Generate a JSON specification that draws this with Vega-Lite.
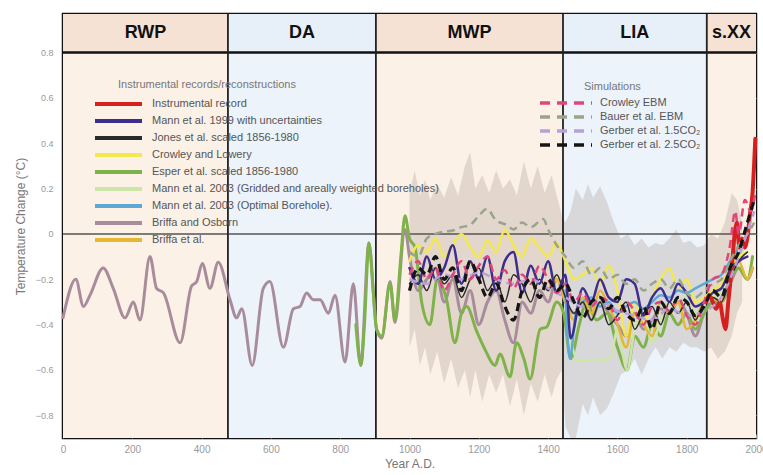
{
"$schema": "https://vega.github.io/schema/vega-lite/v6.json",
"width": 693, "height": 424,
"autosize": {"type": "none"},
"padding": {"left": 63, "top": 14, "right": 7, "bottom": 37},
"background": "white",
"config": {"view": {"stroke": "#111", "strokeWidth": 2.5}, "font": "Liberation Sans", "axis": {"grid": false, "domain": false}},
"datasets": {
"eras": [{"era":"RWP","start":0,"end":476,"mid":238},{"era":"DA","start":476,"end":903,"mid":690},{"era":"MWP","start":903,"end":1443,"mid":1173},{"era":"LIA","start":1443,"end":1858,"mid":1650},{"era":"s.XX","start":1858,"end":2000,"mid":1929}],
"names": [{"k":"ins","name":"Instrumental record"},{"k":"m99","name":"Mann et al. 1999 with uncertainties"},{"k":"jon","name":"Jones et al. scaled 1856-1980"},{"k":"cl","name":"Crowley and Lowery"},{"k":"esp","name":"Esper et al. scaled 1856-1980"},{"k":"m03g","name":"Mann et al. 2003 (Gridded and areally weighted boreholes)"},{"k":"m03b","name":"Mann et al. 2003 (Optimal Borehole)."},{"k":"bo","name":"Briffa and Osborn"},{"k":"bri","name":"Briffa et al."},{"k":"cebm","name":"Crowley EBM"},{"k":"bau","name":"Bauer et al. EBM"},{"k":"g15","name":"Gerber et al. 1.5CO₂"},{"k":"g25","name":"Gerber et al. 2.5CO₂"}],
"band": [{"x":1000,"hi":0.18,"lo":-0.5},{"x":1015,"hi":0.28,"lo":-0.42},{"x":1030,"hi":0.17,"lo":-0.58},{"x":1045,"hi":0.24,"lo":-0.5},{"x":1060,"hi":0.15,"lo":-0.62},{"x":1080,"hi":0.22,"lo":-0.52},{"x":1100,"hi":0.16,"lo":-0.66},{"x":1120,"hi":0.25,"lo":-0.55},{"x":1140,"hi":0.17,"lo":-0.68},{"x":1160,"hi":0.3,"lo":-0.6},{"x":1175,"hi":0.36,"lo":-0.72},{"x":1190,"hi":0.2,"lo":-0.6},{"x":1210,"hi":0.26,"lo":-0.74},{"x":1230,"hi":0.18,"lo":-0.62},{"x":1250,"hi":0.28,"lo":-0.7},{"x":1270,"hi":0.2,"lo":-0.62},{"x":1290,"hi":0.24,"lo":-0.76},{"x":1310,"hi":0.17,"lo":-0.64},{"x":1330,"hi":0.32,"lo":-0.8},{"x":1350,"hi":0.2,"lo":-0.66},{"x":1370,"hi":0.3,"lo":-0.74},{"x":1390,"hi":0.18,"lo":-0.62},{"x":1410,"hi":0.26,"lo":-0.72},{"x":1425,"hi":0.17,"lo":-0.64},{"x":1440,"hi":0.08,"lo":-0.6},{"x":1450,"hi":0.05,"lo":-0.85},{"x":1465,"hi":0.1,"lo":-0.9},{"x":1480,"hi":0.2,"lo":-0.9},{"x":1500,"hi":0.15,"lo":-0.75},{"x":1515,"hi":0.22,"lo":-0.8},{"x":1530,"hi":0.16,"lo":-0.72},{"x":1550,"hi":0.21,"lo":-0.8},{"x":1570,"hi":0.14,"lo":-0.77},{"x":1590,"hi":0.05,"lo":-0.7},{"x":1610,"hi":-0.02,"lo":-0.62},{"x":1630,"hi":0.0,"lo":-0.6},{"x":1650,"hi":-0.05,"lo":-0.55},{"x":1670,"hi":-0.02,"lo":-0.62},{"x":1690,"hi":-0.06,"lo":-0.55},{"x":1710,"hi":-0.04,"lo":-0.5},{"x":1730,"hi":-0.05,"lo":-0.55},{"x":1750,"hi":-0.02,"lo":-0.5},{"x":1770,"hi":0.02,"lo":-0.52},{"x":1790,"hi":-0.04,"lo":-0.48},{"x":1810,"hi":-0.03,"lo":-0.5},{"x":1830,"hi":-0.06,"lo":-0.5},{"x":1850,"hi":-0.05,"lo":-0.52},{"x":1870,"hi":0.0,"lo":-0.5},{"x":1890,"hi":-0.02,"lo":-0.55},{"x":1910,"hi":0.05,"lo":-0.52},{"x":1930,"hi":0.18,"lo":-0.45},{"x":1945,"hi":0.15,"lo":-0.35},{"x":1960,"hi":0.05,"lo":-0.3}],
"series": [
{"k":"bo","x":0,"y":-0.37},{"k":"bo","x":37,"y":-0.2},{"k":"bo","x":59,"y":-0.32},{"k":"bo","x":78,"y":-0.27},{"k":"bo","x":116,"y":-0.15},{"k":"bo","x":145,"y":-0.24},{"k":"bo","x":179,"y":-0.37},{"k":"bo","x":203,"y":-0.3},{"k":"bo","x":222,"y":-0.38},{"k":"bo","x":251,"y":-0.1},{"k":"bo","x":270,"y":-0.24},{"k":"bo","x":290,"y":-0.26},{"k":"bo","x":338,"y":-0.48},{"k":"bo","x":371,"y":-0.23},{"k":"bo","x":386,"y":-0.21},{"k":"bo","x":402,"y":-0.13},{"k":"bo","x":424,"y":-0.24},{"k":"bo","x":448,"y":-0.125},{"k":"bo","x":482,"y":-0.29},{"k":"bo","x":501,"y":-0.37},{"k":"bo","x":516,"y":-0.33},{"k":"bo","x":546,"y":-0.58},{"k":"bo","x":578,"y":-0.24},{"k":"bo","x":597,"y":-0.21},{"k":"bo","x":636,"y":-0.5},{"k":"bo","x":665,"y":-0.33},{"k":"bo","x":684,"y":-0.32},{"k":"bo","x":703,"y":-0.26},{"k":"bo","x":722,"y":-0.29},{"k":"bo","x":742,"y":-0.29},{"k":"bo","x":766,"y":-0.35},{"k":"bo","x":785,"y":-0.27},{"k":"bo","x":814,"y":-0.565},{"k":"bo","x":838,"y":-0.22},{"k":"bo","x":859,"y":-0.58},{"k":"bo","x":883,"y":-0.04},{"k":"bo","x":905,"y":-0.42},{"k":"bo","x":920,"y":-0.46},{"k":"bo","x":944,"y":-0.21},{"k":"bo","x":958,"y":-0.39},{"k":"bo","x":987,"y":0.02},{"k":"bo","x":1000,"y":-0.1},{"k":"bo","x":1025,"y":-0.25},{"k":"bo","x":1050,"y":-0.2},{"k":"bo","x":1075,"y":-0.15},{"k":"bo","x":1100,"y":-0.3},{"k":"bo","x":1125,"y":-0.2},{"k":"bo","x":1150,"y":-0.35},{"k":"bo","x":1175,"y":-0.25},{"k":"bo","x":1200,"y":-0.4},{"k":"bo","x":1225,"y":-0.3},{"k":"bo","x":1250,"y":-0.25},{"k":"bo","x":1275,"y":-0.38},{"k":"bo","x":1300,"y":-0.48},{"k":"bo","x":1325,"y":-0.3},{"k":"bo","x":1350,"y":-0.35},{"k":"bo","x":1375,"y":-0.25},{"k":"bo","x":1400,"y":-0.3},{"k":"bo","x":1425,"y":-0.2},{"k":"bo","x":1450,"y":-0.3},{"k":"bo","x":1475,"y":-0.35},{"k":"bo","x":1500,"y":-0.3},{"k":"bo","x":1525,"y":-0.38},{"k":"bo","x":1550,"y":-0.3},{"k":"bo","x":1575,"y":-0.35},{"k":"bo","x":1600,"y":-0.4},{"k":"bo","x":1625,"y":-0.45},{"k":"bo","x":1650,"y":-0.35},{"k":"bo","x":1675,"y":-0.42},{"k":"bo","x":1700,"y":-0.38},{"k":"bo","x":1725,"y":-0.33},{"k":"bo","x":1750,"y":-0.35},{"k":"bo","x":1775,"y":-0.3},{"k":"bo","x":1800,"y":-0.35},{"k":"bo","x":1825,"y":-0.45},{"k":"bo","x":1850,"y":-0.35},{"k":"bo","x":1875,"y":-0.3},{"k":"bo","x":1900,"y":-0.3},{"k":"bo","x":1925,"y":-0.22},{"k":"bo","x":1950,"y":-0.15},{"k":"bo","x":1975,"y":-0.2},{"k":"bo","x":1990,"y":-0.15},
{"k":"esp","x":845,"y":-0.4},{"k":"esp","x":860,"y":-0.58},{"k":"esp","x":870,"y":-0.4},{"k":"esp","x":883,"y":-0.04},{"k":"esp","x":895,"y":-0.25},{"k":"esp","x":905,"y":-0.42},{"k":"esp","x":920,"y":-0.45},{"k":"esp","x":944,"y":-0.22},{"k":"esp","x":958,"y":-0.38},{"k":"esp","x":975,"y":-0.1},{"k":"esp","x":987,"y":0.08},{"k":"esp","x":1000,"y":-0.02},{"k":"esp","x":1016,"y":-0.06},{"k":"esp","x":1035,"y":-0.3},{"k":"esp","x":1059,"y":-0.4},{"k":"esp","x":1080,"y":-0.2},{"k":"esp","x":1107,"y":-0.29},{"k":"esp","x":1131,"y":-0.48},{"k":"esp","x":1150,"y":-0.35},{"k":"esp","x":1165,"y":-0.32},{"k":"esp","x":1194,"y":-0.43},{"k":"esp","x":1218,"y":-0.51},{"k":"esp","x":1247,"y":-0.58},{"k":"esp","x":1261,"y":-0.53},{"k":"esp","x":1290,"y":-0.63},{"k":"esp","x":1309,"y":-0.48},{"k":"esp","x":1330,"y":-0.55},{"k":"esp","x":1348,"y":-0.64},{"k":"esp","x":1377,"y":-0.42},{"k":"esp","x":1396,"y":-0.41},{"k":"esp","x":1425,"y":-0.3},{"k":"esp","x":1445,"y":-0.35},{"k":"esp","x":1465,"y":-0.55},{"k":"esp","x":1490,"y":-0.4},{"k":"esp","x":1510,"y":-0.3},{"k":"esp","x":1540,"y":-0.38},{"k":"esp","x":1570,"y":-0.35},{"k":"esp","x":1600,"y":-0.5},{"k":"esp","x":1628,"y":-0.6},{"k":"esp","x":1650,"y":-0.45},{"k":"esp","x":1675,"y":-0.5},{"k":"esp","x":1700,"y":-0.4},{"k":"esp","x":1725,"y":-0.45},{"k":"esp","x":1750,"y":-0.35},{"k":"esp","x":1775,"y":-0.4},{"k":"esp","x":1800,"y":-0.35},{"k":"esp","x":1825,"y":-0.42},{"k":"esp","x":1850,"y":-0.35},{"k":"esp","x":1875,"y":-0.3},{"k":"esp","x":1900,"y":-0.3},{"k":"esp","x":1925,"y":-0.2},{"k":"esp","x":1950,"y":-0.15},{"k":"esp","x":1975,"y":-0.2},{"k":"esp","x":1990,"y":-0.1},
{"k":"m03g","x":1400,"y":-0.15},{"k":"m03g","x":1425,"y":-0.2},{"k":"m03g","x":1450,"y":-0.28},{"k":"m03g","x":1470,"y":-0.5},{"k":"m03g","x":1490,"y":-0.56},{"k":"m03g","x":1580,"y":-0.55},{"k":"m03g","x":1600,"y":-0.42},{"k":"m03g","x":1628,"y":-0.6},{"k":"m03g","x":1650,"y":-0.42},{"k":"m03g","x":1675,"y":-0.35},{"k":"m03g","x":1700,"y":-0.48},{"k":"m03g","x":1725,"y":-0.38},{"k":"m03g","x":1750,"y":-0.3},{"k":"m03g","x":1775,"y":-0.35},{"k":"m03g","x":1800,"y":-0.26},{"k":"m03g","x":1825,"y":-0.35},{"k":"m03g","x":1850,"y":-0.3},{"k":"m03g","x":1875,"y":-0.28},{"k":"m03g","x":1900,"y":-0.25},{"k":"m03g","x":1925,"y":-0.18},{"k":"m03g","x":1950,"y":-0.1},{"k":"m03g","x":1975,"y":-0.05},
{"k":"cl","x":1000,"y":-0.12},{"k":"cl","x":1025,"y":-0.05},{"k":"cl","x":1050,"y":-0.08},{"k":"cl","x":1075,"y":-0.02},{"k":"cl","x":1100,"y":-0.1},{"k":"cl","x":1125,"y":-0.05},{"k":"cl","x":1150,"y":0.0},{"k":"cl","x":1175,"y":-0.06},{"k":"cl","x":1200,"y":-0.1},{"k":"cl","x":1225,"y":-0.03},{"k":"cl","x":1250,"y":-0.08},{"k":"cl","x":1275,"y":0.02},{"k":"cl","x":1300,"y":-0.05},{"k":"cl","x":1325,"y":-0.1},{"k":"cl","x":1350,"y":-0.02},{"k":"cl","x":1375,"y":-0.06},{"k":"cl","x":1400,"y":-0.1},{"k":"cl","x":1425,"y":-0.04},{"k":"cl","x":1450,"y":-0.12},{"k":"cl","x":1475,"y":-0.2},{"k":"cl","x":1500,"y":-0.18},{"k":"cl","x":1525,"y":-0.15},{"k":"cl","x":1550,"y":-0.22},{"k":"cl","x":1575,"y":-0.14},{"k":"cl","x":1600,"y":-0.25},{"k":"cl","x":1625,"y":-0.45},{"k":"cl","x":1650,"y":-0.3},{"k":"cl","x":1675,"y":-0.4},{"k":"cl","x":1700,"y":-0.28},{"k":"cl","x":1725,"y":-0.2},{"k":"cl","x":1750,"y":-0.15},{"k":"cl","x":1775,"y":-0.25},{"k":"cl","x":1800,"y":-0.2},{"k":"cl","x":1825,"y":-0.3},{"k":"cl","x":1850,"y":-0.28},{"k":"cl","x":1875,"y":-0.25},{"k":"cl","x":1900,"y":-0.22},{"k":"cl","x":1925,"y":-0.15},{"k":"cl","x":1950,"y":-0.1},{"k":"cl","x":1975,"y":-0.08},
{"k":"bri","x":1400,"y":-0.25},{"k":"bri","x":1425,"y":-0.2},{"k":"bri","x":1450,"y":-0.3},{"k":"bri","x":1475,"y":-0.38},{"k":"bri","x":1500,"y":-0.28},{"k":"bri","x":1525,"y":-0.35},{"k":"bri","x":1550,"y":-0.25},{"k":"bri","x":1575,"y":-0.32},{"k":"bri","x":1600,"y":-0.4},{"k":"bri","x":1625,"y":-0.5},{"k":"bri","x":1650,"y":-0.35},{"k":"bri","x":1675,"y":-0.4},{"k":"bri","x":1700,"y":-0.45},{"k":"bri","x":1725,"y":-0.3},{"k":"bri","x":1750,"y":-0.35},{"k":"bri","x":1775,"y":-0.3},{"k":"bri","x":1800,"y":-0.42},{"k":"bri","x":1825,"y":-0.38},{"k":"bri","x":1850,"y":-0.3},{"k":"bri","x":1875,"y":-0.28},{"k":"bri","x":1900,"y":-0.3},{"k":"bri","x":1925,"y":-0.18},{"k":"bri","x":1950,"y":-0.12},{"k":"bri","x":1975,"y":-0.2},{"k":"bri","x":1990,"y":-0.15},
{"k":"m03b","x":1450,"y":-0.25},{"k":"m03b","x":1463,"y":-0.55},{"k":"m03b","x":1480,"y":-0.35},{"k":"m03b","x":1500,"y":-0.3},{"k":"m03b","x":1525,"y":-0.28},{"k":"m03b","x":1550,"y":-0.32},{"k":"m03b","x":1575,"y":-0.3},{"k":"m03b","x":1600,"y":-0.35},{"k":"m03b","x":1625,"y":-0.32},{"k":"m03b","x":1650,"y":-0.3},{"k":"m03b","x":1675,"y":-0.33},{"k":"m03b","x":1700,"y":-0.3},{"k":"m03b","x":1725,"y":-0.27},{"k":"m03b","x":1750,"y":-0.28},{"k":"m03b","x":1775,"y":-0.25},{"k":"m03b","x":1800,"y":-0.26},{"k":"m03b","x":1825,"y":-0.24},{"k":"m03b","x":1850,"y":-0.22},{"k":"m03b","x":1875,"y":-0.2},{"k":"m03b","x":1900,"y":-0.18},{"k":"m03b","x":1925,"y":-0.12},{"k":"m03b","x":1950,"y":-0.06},{"k":"m03b","x":1975,"y":-0.02},
{"k":"jon","x":1000,"y":-0.22},{"k":"jon","x":1025,"y":-0.18},{"k":"jon","x":1050,"y":-0.25},{"k":"jon","x":1075,"y":-0.15},{"k":"jon","x":1100,"y":-0.22},{"k":"jon","x":1125,"y":-0.18},{"k":"jon","x":1150,"y":-0.28},{"k":"jon","x":1175,"y":-0.2},{"k":"jon","x":1200,"y":-0.15},{"k":"jon","x":1225,"y":-0.25},{"k":"jon","x":1250,"y":-0.2},{"k":"jon","x":1275,"y":-0.3},{"k":"jon","x":1300,"y":-0.18},{"k":"jon","x":1325,"y":-0.22},{"k":"jon","x":1350,"y":-0.3},{"k":"jon","x":1375,"y":-0.2},{"k":"jon","x":1400,"y":-0.25},{"k":"jon","x":1425,"y":-0.18},{"k":"jon","x":1450,"y":-0.28},{"k":"jon","x":1475,"y":-0.35},{"k":"jon","x":1500,"y":-0.3},{"k":"jon","x":1525,"y":-0.38},{"k":"jon","x":1550,"y":-0.3},{"k":"jon","x":1575,"y":-0.4},{"k":"jon","x":1600,"y":-0.36},{"k":"jon","x":1625,"y":-0.3},{"k":"jon","x":1650,"y":-0.42},{"k":"jon","x":1675,"y":-0.35},{"k":"jon","x":1700,"y":-0.32},{"k":"jon","x":1725,"y":-0.4},{"k":"jon","x":1750,"y":-0.3},{"k":"jon","x":1775,"y":-0.35},{"k":"jon","x":1800,"y":-0.3},{"k":"jon","x":1825,"y":-0.38},{"k":"jon","x":1850,"y":-0.3},{"k":"jon","x":1875,"y":-0.28},{"k":"jon","x":1900,"y":-0.3},{"k":"jon","x":1925,"y":-0.2},{"k":"jon","x":1950,"y":-0.12},{"k":"jon","x":1975,"y":-0.08},
{"k":"m99","x":1000,"y":-0.15},{"k":"m99","x":1025,"y":-0.22},{"k":"m99","x":1050,"y":-0.1},{"k":"m99","x":1075,"y":-0.2},{"k":"m99","x":1100,"y":-0.15},{"k":"m99","x":1125,"y":-0.05},{"k":"m99","x":1150,"y":-0.22},{"k":"m99","x":1175,"y":-0.12},{"k":"m99","x":1200,"y":-0.2},{"k":"m99","x":1225,"y":-0.1},{"k":"m99","x":1250,"y":-0.25},{"k":"m99","x":1275,"y":-0.12},{"k":"m99","x":1300,"y":-0.08},{"k":"m99","x":1325,"y":-0.26},{"k":"m99","x":1350,"y":-0.14},{"k":"m99","x":1375,"y":-0.22},{"k":"m99","x":1400,"y":-0.12},{"k":"m99","x":1425,"y":-0.26},{"k":"m99","x":1450,"y":-0.18},{"k":"m99","x":1465,"y":-0.46},{"k":"m99","x":1500,"y":-0.24},{"k":"m99","x":1525,"y":-0.3},{"k":"m99","x":1550,"y":-0.2},{"k":"m99","x":1575,"y":-0.28},{"k":"m99","x":1600,"y":-0.3},{"k":"m99","x":1625,"y":-0.2},{"k":"m99","x":1650,"y":-0.22},{"k":"m99","x":1675,"y":-0.36},{"k":"m99","x":1700,"y":-0.28},{"k":"m99","x":1725,"y":-0.24},{"k":"m99","x":1750,"y":-0.3},{"k":"m99","x":1775,"y":-0.22},{"k":"m99","x":1800,"y":-0.26},{"k":"m99","x":1825,"y":-0.32},{"k":"m99","x":1850,"y":-0.3},{"k":"m99","x":1875,"y":-0.26},{"k":"m99","x":1900,"y":-0.24},{"k":"m99","x":1925,"y":-0.16},{"k":"m99","x":1950,"y":-0.12},{"k":"m99","x":1975,"y":-0.1},
{"k":"ins","x":1856,"y":-0.3},{"k":"ins","x":1865,"y":-0.27},{"k":"ins","x":1875,"y":-0.3},{"k":"ins","x":1885,"y":-0.33},{"k":"ins","x":1895,"y":-0.3},{"k":"ins","x":1905,"y":-0.38},{"k":"ins","x":1912,"y":-0.42},{"k":"ins","x":1920,"y":-0.3},{"k":"ins","x":1930,"y":-0.15},{"k":"ins","x":1940,"y":0.02},{"k":"ins","x":1945,"y":0.05},{"k":"ins","x":1952,"y":-0.06},{"k":"ins","x":1960,"y":-0.02},{"k":"ins","x":1968,"y":-0.06},{"k":"ins","x":1975,"y":-0.02},{"k":"ins","x":1982,"y":0.08},{"k":"ins","x":1990,"y":0.18},{"k":"ins","x":1998,"y":0.42},
{"k":"bau","x":1000,"y":-0.08},{"k":"bau","x":1025,"y":-0.1},{"k":"bau","x":1050,"y":-0.02},{"k":"bau","x":1075,"y":0.0},{"k":"bau","x":1100,"y":0.01},{"k":"bau","x":1125,"y":0.015},{"k":"bau","x":1150,"y":0.03},{"k":"bau","x":1175,"y":0.04},{"k":"bau","x":1200,"y":0.08},{"k":"bau","x":1223,"y":0.11},{"k":"bau","x":1250,"y":0.06},{"k":"bau","x":1280,"y":0.04},{"k":"bau","x":1300,"y":0.02},{"k":"bau","x":1325,"y":0.05},{"k":"bau","x":1350,"y":0.03},{"k":"bau","x":1386,"y":0.066},{"k":"bau","x":1400,"y":0.02},{"k":"bau","x":1425,"y":-0.05},{"k":"bau","x":1450,"y":-0.1},{"k":"bau","x":1475,"y":-0.15},{"k":"bau","x":1500,"y":-0.12},{"k":"bau","x":1525,"y":-0.18},{"k":"bau","x":1550,"y":-0.15},{"k":"bau","x":1575,"y":-0.2},{"k":"bau","x":1600,"y":-0.18},{"k":"bau","x":1625,"y":-0.22},{"k":"bau","x":1650,"y":-0.2},{"k":"bau","x":1675,"y":-0.25},{"k":"bau","x":1700,"y":-0.22},{"k":"bau","x":1725,"y":-0.2},{"k":"bau","x":1750,"y":-0.24},{"k":"bau","x":1775,"y":-0.2},{"k":"bau","x":1800,"y":-0.26},{"k":"bau","x":1825,"y":-0.28},{"k":"bau","x":1850,"y":-0.25},{"k":"bau","x":1875,"y":-0.22},{"k":"bau","x":1900,"y":-0.2},{"k":"bau","x":1925,"y":-0.12},{"k":"bau","x":1950,"y":-0.05},{"k":"bau","x":1975,"y":0.0},{"k":"bau","x":1995,"y":0.05},
{"k":"g15","x":1000,"y":-0.2},{"k":"g15","x":1050,"y":-0.22},{"k":"g15","x":1100,"y":-0.18},{"k":"g15","x":1150,"y":-0.2},{"k":"g15","x":1200,"y":-0.17},{"k":"g15","x":1250,"y":-0.2},{"k":"g15","x":1300,"y":-0.22},{"k":"g15","x":1350,"y":-0.2},{"k":"g15","x":1400,"y":-0.24},{"k":"g15","x":1450,"y":-0.28},{"k":"g15","x":1500,"y":-0.32},{"k":"g15","x":1550,"y":-0.3},{"k":"g15","x":1600,"y":-0.34},{"k":"g15","x":1650,"y":-0.36},{"k":"g15","x":1700,"y":-0.38},{"k":"g15","x":1750,"y":-0.33},{"k":"g15","x":1800,"y":-0.36},{"k":"g15","x":1850,"y":-0.34},{"k":"g15","x":1900,"y":-0.28},{"k":"g15","x":1950,"y":-0.1},{"k":"g15","x":1995,"y":0.1},
{"k":"cebm","x":1000,"y":-0.18},{"k":"cebm","x":1025,"y":-0.12},{"k":"cebm","x":1050,"y":-0.2},{"k":"cebm","x":1075,"y":-0.15},{"k":"cebm","x":1100,"y":-0.25},{"k":"cebm","x":1125,"y":-0.18},{"k":"cebm","x":1150,"y":-0.12},{"k":"cebm","x":1175,"y":-0.2},{"k":"cebm","x":1200,"y":-0.14},{"k":"cebm","x":1225,"y":-0.1},{"k":"cebm","x":1250,"y":-0.2},{"k":"cebm","x":1275,"y":-0.16},{"k":"cebm","x":1300,"y":-0.24},{"k":"cebm","x":1325,"y":-0.18},{"k":"cebm","x":1350,"y":-0.22},{"k":"cebm","x":1375,"y":-0.14},{"k":"cebm","x":1400,"y":-0.2},{"k":"cebm","x":1425,"y":-0.26},{"k":"cebm","x":1450,"y":-0.22},{"k":"cebm","x":1475,"y":-0.3},{"k":"cebm","x":1500,"y":-0.26},{"k":"cebm","x":1525,"y":-0.32},{"k":"cebm","x":1550,"y":-0.28},{"k":"cebm","x":1575,"y":-0.3},{"k":"cebm","x":1600,"y":-0.38},{"k":"cebm","x":1625,"y":-0.3},{"k":"cebm","x":1650,"y":-0.34},{"k":"cebm","x":1675,"y":-0.4},{"k":"cebm","x":1700,"y":-0.32},{"k":"cebm","x":1725,"y":-0.3},{"k":"cebm","x":1750,"y":-0.34},{"k":"cebm","x":1775,"y":-0.28},{"k":"cebm","x":1800,"y":-0.36},{"k":"cebm","x":1825,"y":-0.4},{"k":"cebm","x":1850,"y":-0.3},{"k":"cebm","x":1875,"y":-0.2},{"k":"cebm","x":1900,"y":-0.18},{"k":"cebm","x":1925,"y":-0.05},{"k":"cebm","x":1940,"y":0.1},{"k":"cebm","x":1950,"y":0.0},{"k":"cebm","x":1968,"y":0.15},{"k":"cebm","x":1985,"y":0.1},{"k":"cebm","x":1998,"y":0.18},
{"k":"g25","x":1000,"y":-0.25},{"k":"g25","x":1025,"y":-0.15},{"k":"g25","x":1050,"y":-0.18},{"k":"g25","x":1075,"y":-0.1},{"k":"g25","x":1100,"y":-0.2},{"k":"g25","x":1125,"y":-0.15},{"k":"g25","x":1150,"y":-0.25},{"k":"g25","x":1175,"y":-0.12},{"k":"g25","x":1200,"y":-0.2},{"k":"g25","x":1225,"y":-0.28},{"k":"g25","x":1250,"y":-0.22},{"k":"g25","x":1275,"y":-0.32},{"k":"g25","x":1300,"y":-0.38},{"k":"g25","x":1325,"y":-0.25},{"k":"g25","x":1350,"y":-0.2},{"k":"g25","x":1375,"y":-0.28},{"k":"g25","x":1400,"y":-0.2},{"k":"g25","x":1425,"y":-0.25},{"k":"g25","x":1450,"y":-0.22},{"k":"g25","x":1475,"y":-0.3},{"k":"g25","x":1500,"y":-0.37},{"k":"g25","x":1525,"y":-0.3},{"k":"g25","x":1550,"y":-0.28},{"k":"g25","x":1575,"y":-0.33},{"k":"g25","x":1600,"y":-0.28},{"k":"g25","x":1625,"y":-0.35},{"k":"g25","x":1650,"y":-0.38},{"k":"g25","x":1675,"y":-0.32},{"k":"g25","x":1700,"y":-0.42},{"k":"g25","x":1725,"y":-0.3},{"k":"g25","x":1750,"y":-0.35},{"k":"g25","x":1775,"y":-0.28},{"k":"g25","x":1800,"y":-0.3},{"k":"g25","x":1825,"y":-0.36},{"k":"g25","x":1850,"y":-0.32},{"k":"g25","x":1875,"y":-0.25},{"k":"g25","x":1900,"y":-0.28},{"k":"g25","x":1925,"y":-0.15},{"k":"g25","x":1950,"y":-0.08},{"k":"g25","x":1975,"y":0.05},{"k":"g25","x":1995,"y":0.15}
]
},
"resolve": {"scale": {"color": "independent", "fill": "independent"}, "axis": {"x": "independent", "y": "independent"}},
"layer": [
{"data": {"name": "eras"}, "mark": {"type": "rect"},
 "encoding": {
  "x": {"field": "start", "type": "quantitative", "scale": {"domain": [0, 2000], "nice": false, "zero": false},
   "axis": {"orient": "bottom", "title": "Year A.D.", "values": [0,200,400,600,800,1000,1200,1400,1600,1800,2000], "format": "d", "labelFlush": false, "labelColor": "#999", "labelFontSize": 10, "tickSize": -4, "tickColor": "#999", "labelPadding": 10, "titleColor": "#777", "titleFontSize": 12, "titleFontWeight": "normal", "titlePadding": 4}},
  "x2": {"field": "end"},
  "y": {"datum": -0.9, "type": "quantitative", "scale": {"domain": [-0.9, 0.97], "nice": false, "zero": false},
   "axis": {"orient": "left", "title": "Temperature Change (°C)", "values": [-0.8,-0.6,-0.4,-0.2,0,0.2,0.4,0.6,0.8], "format": "~g", "labelColor": "#999", "labelFontSize": 9, "tickSize": -4, "tickColor": "#999", "labelPadding": 14, "titleColor": "#777", "titleFontSize": 12, "titleFontWeight": "normal", "titlePadding": 8}},
  "y2": {"datum": 0.8},
  "fill": {"field": "era", "type": "nominal", "scale": {"domain": ["RWP","DA","MWP","LIA","s.XX"], "range": ["#fcf1e7","#ecf3fb","#fcf1e7","#ecf3fb","#fcf1e7"]}, "legend": null}
 }},
{"data": {"name": "eras"}, "mark": {"type": "rect"},
 "encoding": {
  "x": {"field": "start", "type": "quantitative", "axis": null},
  "x2": {"field": "end"},
  "y": {"datum": 0.8, "type": "quantitative", "axis": null},
  "y2": {"datum": 0.97},
  "fill": {"field": "era", "type": "nominal", "scale": {"domain": ["RWP","DA","MWP","LIA","s.XX"], "range": ["#f6e2d4","#e7eff8","#f6e2d4","#e7eff8","#f6e2d4"]}, "legend": null}
 }},
{"data": {"name": "band"}, "mark": {"type": "area", "color": "#a89c92", "opacity": 0.3},
 "encoding": {
  "x": {"field": "x", "type": "quantitative", "axis": null},
  "y": {"field": "hi", "type": "quantitative", "axis": null},
  "y2": {"field": "lo"}
 }},
{"data": {"values": [{}]}, "mark": {"type": "rule", "color": "#555", "strokeWidth": 1.5},
 "encoding": {"y": {"datum": 0, "type": "quantitative", "axis": null}}},
{"data": {"values": [{}]}, "mark": {"type": "rule", "color": "#111", "strokeWidth": 2.5},
 "encoding": {"y": {"datum": 0.8, "type": "quantitative",
   "axis": {"orient": "right", "title": null, "labels": false, "values": [-0.8,-0.6,-0.4,-0.2,0,0.2,0.4,0.6,0.8], "tickSize": -4, "tickColor": "#999"}}}},
{"data": {"name": "eras"}, "transform": [{"filter": "datum.end < 2000"}], "mark": {"type": "rule", "color": "#222", "strokeWidth": 1.8},
 "encoding": {"x": {"field": "end", "type": "quantitative",
   "axis": {"orient": "top", "title": null, "labels": false, "offset": -38, "values": [0,200,400,600,800,1000,1200,1400,1600,1800], "tickSize": -4, "tickColor": "#999"}}}},
{"data": {"name": "series"},
 "transform": [{"filter": {"field": "k", "oneOf": ["bo","esp","m03g","cl","bri","m03b","jon","m99","ins"]}}, {"lookup": "k", "from": {"data": {"name": "names"}, "key": "k", "fields": ["name"]}}],
 "mark": {"type": "line", "interpolate": "monotone", "strokeCap": "round", "strokeJoin": "round"},
 "encoding": {
  "x": {"field": "x", "type": "quantitative", "axis": null},
  "y": {"field": "y", "type": "quantitative", "axis": null},
  "color": {"field": "name", "type": "nominal",
   "scale": {"domain": ["Instrumental record","Mann et al. 1999 with uncertainties","Jones et al. scaled 1856-1980","Crowley and Lowery","Esper et al. scaled 1856-1980","Mann et al. 2003 (Gridded and areally weighted boreholes)","Mann et al. 2003 (Optimal Borehole).","Briffa and Osborn","Briffa et al."],
    "range": ["#d62020","#3f2d8e","#2a2a2a","#f3e84e","#7fb24a","#cde6a8","#5fa8d6","#a98c9c","#e6b72f"]},
   "legend": {"orient": "none", "legendX": 55, "legendY": 65, "padding": 0, "title": "Instrumental records/reconstructions", "titleFont": "Liberation Sans", "titleFontWeight": "normal", "titleFontSize": 11, "titleColor": "#777", "titlePadding": 8, "labelFont": "Liberation Sans", "labelFontSize": 11, "labelColor": "#555", "labelLimit": 400, "symbolType": "M-7.25,0H4.5", "symbolSize": 64, "symbolStrokeWidth": 4, "labelOffset": 22, "rowPadding": 1}},
  "strokeWidth": {"condition": [{"test": "datum.k === 'ins'", "value": 4}, {"test": "datum.k === 'jon'", "value": 1.5}, {"test": "datum.k === 'bo' || datum.k === 'esp'", "value": 3}], "value": 2.5}
 }},
{"data": {"name": "series"},
 "transform": [{"filter": {"field": "k", "oneOf": ["bau","g15","cebm","g25"]}}, {"lookup": "k", "from": {"data": {"name": "names"}, "key": "k", "fields": ["name"]}}],
 "mark": {"type": "line", "interpolate": "monotone", "strokeDash": [8, 5]},
 "encoding": {
  "x": {"field": "x", "type": "quantitative", "axis": null},
  "y": {"field": "y", "type": "quantitative", "axis": null},
  "color": {"field": "name", "type": "nominal",
   "scale": {"domain": ["Crowley EBM","Bauer et al. EBM","Gerber et al. 1.5CO₂","Gerber et al. 2.5CO₂"], "range": ["#e0457b","#9aa488","#b8a0d8","#151515"]},
   "legend": {"orient": "none", "legendX": 521, "legendY": 67, "padding": 0, "title": "Simulations", "titleFont": "Liberation Sans", "titleFontWeight": "normal", "titleFontSize": 11, "titleColor": "#777", "titlePadding": 5, "labelFont": "Liberation Sans", "labelFontSize": 11, "labelColor": "#555", "labelLimit": 400, "symbolType": "M-12.5,0H0.5", "symbolSize": 64, "symbolStrokeWidth": 3.5, "symbolDash": [10, 7], "labelOffset": 4, "rowPadding": 0}},
  "strokeWidth": {"condition": {"test": "datum.k === 'g25'", "value": 3.2}, "value": 2.5}
 }},
{"data": {"name": "eras"}, "mark": {"type": "text", "fontSize": 18, "fontWeight": "bold", "color": "#111", "font": "Liberation Sans"},
 "encoding": {
  "x": {"field": "mid", "type": "quantitative", "axis": null},
  "y": {"datum": 0.885, "type": "quantitative", "axis": null},
  "text": {"field": "era"}
 }}
]
}
